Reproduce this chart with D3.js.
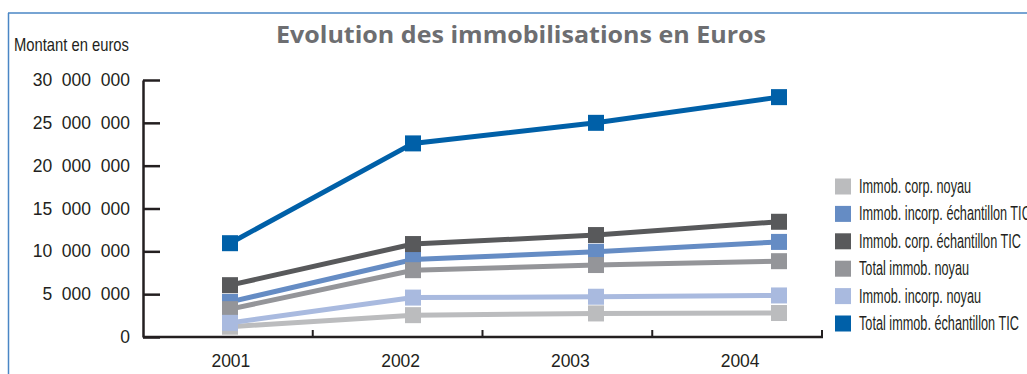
<!DOCTYPE html>
<html>
<head>
<meta charset="utf-8">
<script src="https://cdn.jsdelivr.net/npm/d3@7"></script>
<style>
  html, body { margin: 0; padding: 0; background: #fff; }
  svg { display: block; }
</style>
</head>
<body>
<svg id="chart" width="1027" height="374"></svg>
<script>
// Years on the horizontal axis
const years = ["2001", "2002", "2003", "2004"];

// Series names (legend order)
const seriesNames = [
  "Immob. corp. noyau",
  "Immob. incorp. échantillon TIC",
  "Immob. corp. échantillon TIC",
  "Total immob. noyau",
  "Immob. incorp. noyau",
  "Total immob. échantillon TIC"
];

// Amounts in euros, one array per series
const corpNoyau        = [1200000, 2550000, 2750000, 2800000];
const incorpEchTIC     = [4100000, 9050000, 9950000, 11100000];
const corpEchTIC       = [6050000, 10850000, 11900000, 13450000];
const totalNoyau       = [3250000, 7800000, 8400000, 8850000];
const incorpNoyau      = [1650000, 4600000, 4700000, 4850000];
const totalEchTIC      = [10950000, 22600000, 25000000, 28000000];

// Y axis tick values
const yTicks = [0, 5000000, 10000000, 15000000, 20000000, 25000000, 30000000];

const seriesColors = ["#bbbcbe", "#658cc4", "#58595b", "#949599", "#a9badf", "#0060a8"];
const seriesValues = [corpNoyau, incorpEchTIC, corpEchTIC, totalNoyau, incorpNoyau, totalEchTIC];

const svg = d3.select("#chart");
const ink = "#231f20";
const narrowFont = "'Liberation Sans', Arial, sans-serif";

// Squeeze a text horizontally so that it spans the given width
function condenseTo(sel, x, y, width) {
  const w = sel.node().getComputedTextLength();
  sel.attr("transform", `translate(${x},${y}) scale(${width / w},1)`);
  return width / w;
}

// Outer frame (top and left rules)
svg.append("line").attr("x1", 8).attr("x2", 1027).attr("y1", 13).attr("y2", 13)
  .attr("stroke", "#4a86c5").attr("stroke-width", 1.5);
svg.append("line").attr("x1", 8.5).attr("x2", 8.5).attr("y1", 13).attr("y2", 374)
  .attr("stroke", "#4a86c5").attr("stroke-width", 1.5);

// Title
svg.append("text")
  .attr("x", 276).attr("y", 43)
  .attr("font-family", "'Open Sans', sans-serif")
  .attr("font-weight", 700)
  .attr("font-size", 24)
  .attr("textLength", 490)
  .attr("lengthAdjust", "spacingAndGlyphs")
  .attr("fill", "#6d6e71")
  .text("Evolution des immobilisations en Euros");

// Y axis unit label
const unitLabel = svg.append("text")
  .attr("font-family", narrowFont)
  .attr("font-size", 18.5)
  .attr("fill", ink)
  .text("Montant en euros");
condenseTo(unitLabel, 14, 51, 115);

// Scales
const y = d3.scaleLinear().domain([0, 30000000]).range([337, 80]);
const xBand = d3.scaleBand().domain(years).range([143, 822]).padding(0);
const xPoint = d3.scalePoint().domain(years).range([230, 779]);

const locale = d3.formatLocale({ decimal: ",", thousands: "\u2007", grouping: [3], currency: ["", " €"] });
const fmt = locale.format(",");

// Y axis: ticks pointing into the plot
const yAxis = d3.axisLeft(y).tickValues(yTicks).tickFormat(fmt)
  .tickSizeInner(-17).tickSizeOuter(0).tickPadding(13);
const gy = svg.append("g").attr("transform", "translate(143,0)").call(yAxis);
gy.select(".domain").attr("stroke", ink).attr("stroke-width", 2.5);
gy.selectAll(".tick line").attr("stroke", ink).attr("stroke-width", 2.5);
gy.selectAll(".tick text")
  .attr("font-family", "'Liberation Sans', Arial, sans-serif")
  .attr("font-size", 17.5)
  .attr("fill", ink);

// X axis: labels centred in bands, ticks at band boundaries
const xAxis = d3.axisBottom(xBand).tickSize(0).tickPadding(18);
const gx = svg.append("g").attr("transform", "translate(3,337)").call(xAxis);
gx.select(".domain").remove();
gx.selectAll(".tick text")
  .attr("font-family", "'Liberation Sans', Arial, sans-serif")
  .attr("font-size", 17.5)
  .attr("fill", ink);
svg.append("line")
  .attr("x1", 143).attr("x2", xBand.range()[1] + 1)
  .attr("y1", 337).attr("y2", 337)
  .attr("stroke", ink).attr("stroke-width", 2.5);
svg.append("g").selectAll("line")
  .data(years)
  .join("line")
  .attr("x1", d => xBand(d) + xBand.bandwidth())
  .attr("x2", d => xBand(d) + xBand.bandwidth())
  .attr("y1", 337).attr("y2", 330)
  .attr("stroke", ink).attr("stroke-width", 2);

// Series lines and square markers
const line = d3.line().x((d, i) => xPoint(years[i])).y(d => y(d));
const ms = 16;
seriesValues.forEach((vals, s) => {
  const g = svg.append("g");
  g.append("path")
    .attr("d", line(vals))
    .attr("fill", "none")
    .attr("stroke", seriesColors[s])
    .attr("stroke-width", 5);
  g.selectAll("rect")
    .data(vals)
    .join("rect")
    .attr("x", (d, i) => xPoint(years[i]) - ms / 2)
    .attr("y", d => y(d) - ms / 2)
    .attr("width", ms).attr("height", ms)
    .attr("fill", seriesColors[s]);
});

// Legend
const legend = svg.append("g").attr("transform", "translate(835,186.5)");
const items = legend.selectAll("g")
  .data(seriesNames)
  .join("g")
  .attr("transform", (d, i) => `translate(0,${i * 27.4})`);
items.append("rect")
  .attr("x", 0).attr("y", -8)
  .attr("width", 16).attr("height", 16)
  .attr("fill", (d, i) => seriesColors[i]);
const legendTexts = items.append("text")
  .attr("font-family", narrowFont)
  .attr("font-size", 19.5)
  .attr("fill", ink)
  .text(d => d);
// Same squeeze for every entry, set by the last label
const lastText = legendTexts.filter((d, i) => i === seriesNames.length - 1);
const k = condenseTo(lastText, 24, 6.5, 160);
legendTexts.attr("transform", `translate(24,6.5) scale(${k},1)`);
</script>
</body>
</html>
